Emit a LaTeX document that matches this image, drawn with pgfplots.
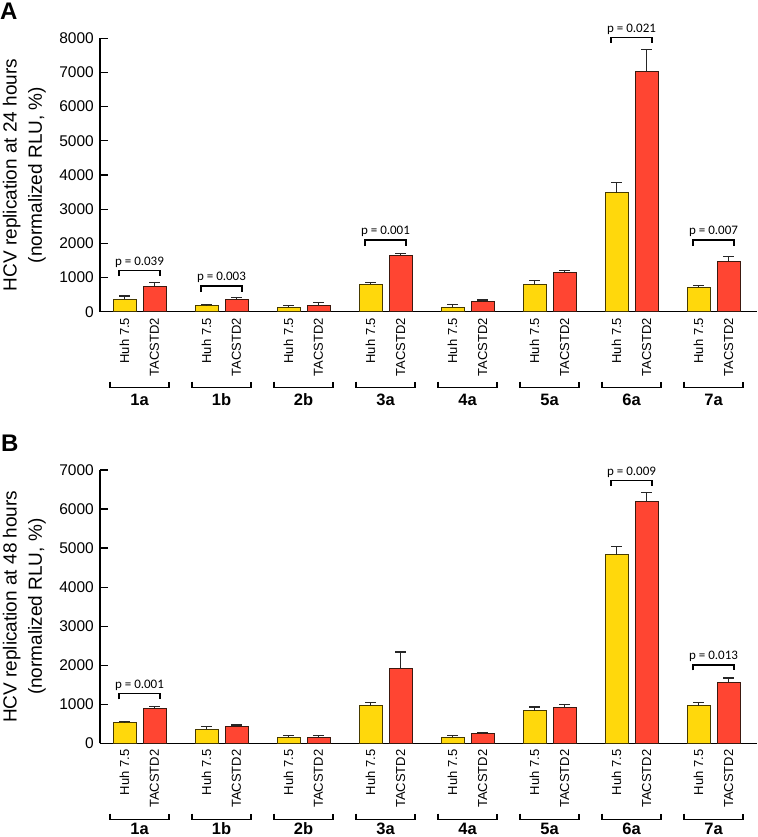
\documentclass[border=0pt]{standalone}
\usepackage{pgfplots}
\pgfplotsset{compat=1.18}
\usepackage{pgfplotstable}
\usepackage{fontspec}
\setmainfont{Liberation Sans}
\newfontfamily\pfont{Carlito}
\definecolor{huhfill}{RGB}{255,216,12}
\definecolor{huhedge}{RGB}{70,58,0}
\definecolor{tacfill}{RGB}{255,69,50}
\definecolor{tacedge}{RGB}{60,25,15}

\pgfplotstableread{
x h he t te
0 370 89 750 98
1 167 48 371 40
2 137 38 167 108
3 800 60 1649 47
4 128 88 292 50
5 800 106 1152 58
6 3480 292 7020 650
7 713 59 1474 146
}\topdata

\pgfplotstableread{
x h he t te
0 533 25 901 51
1 363 67 440 34
2 165 42 148 55
3 960 95 1908 435
4 160 48 255 24
5 840 95 917 86
6 4835 205 6185 247
7 969 86 1549 128
}\botdata

\pgfplotsset{
 panel/.style={
  scale only axis, width=657pt,
  xmin=-0.4817, xmax=7.530, ymin=0,
  axis x line*=bottom, axis y line*=left,
  axis line style={line width=1.3pt, black},
  ybar=7pt, bar width=23pt,
  clip=false,
  xtick={-0.183,0.183,0.817,1.183,1.817,2.183,2.817,3.183,3.817,4.183,4.817,5.183,5.817,6.183,6.817,7.183},
  xticklabels={Huh 7.5,TACSTD2,Huh 7.5,TACSTD2,Huh 7.5,TACSTD2,Huh 7.5,TACSTD2,Huh 7.5,TACSTD2,Huh 7.5,TACSTD2,Huh 7.5,TACSTD2,Huh 7.5,TACSTD2},
  xtick style={draw=none},
  xticklabel style={rotate=90, anchor=east, inner xsep=6pt, inner ysep=0pt, font=\fontsize{13}{14}\selectfont},
  yticklabel style={font=\fontsize{15.5}{17}\selectfont, inner sep=0pt, xshift=-6pt},
  ytick style={line width=1.3pt, black},
  tick align=inside, major tick length=7.5pt,
  /pgf/number format/assume math mode=true,
  /pgf/number format/1000 sep={},
  ylabel style={font=\fontsize{19}{25.3}\selectfont, align=center, at={(axis description cs:-0.0822,0.5)}, anchor=south, inner sep=0pt},
 },
 huh/.style={fill=huhfill, draw=huhedge, line width=1pt,
   error bars/.cd, y dir=plus, y explicit,
   error bar style={line width=1.3pt, black!85},
   error mark options={rotate=90, line width=1.3pt, black!85, mark size=5.5pt}},
 tac/.style={fill=tacfill, draw=tacedge, line width=1pt,
   error bars/.cd, y dir=plus, y explicit,
   error bar style={line width=1.3pt, black!85},
   error mark options={rotate=90, line width=1.3pt, black!85, mark size=5.5pt}},
}
\tikzset{
 brk/.style={line width=1.2pt, black},
 pv/.style={font=\pfont\fontsize{13}{14}\selectfont, anchor=base, inner sep=0pt},
 glab/.style={font=\bfseries\fontsize{16.5}{18}\selectfont, anchor=base, inner sep=0pt},
}
% group bracket: left, center, right, label, label offset
\newcommand{\grp}[5]{%
 \draw[brk] ([yshift=-70pt]axis cs:#1,0) -- ([yshift=-75.6pt]axis cs:#1,0) -- ([yshift=-75.6pt]axis cs:#3,0) -- ([yshift=-70pt]axis cs:#3,0);
 \node[glab] at ([yshift=#5]axis cs:#2,0) {#4};}
% p-value bracket: left, center, right, ybottom, ytop, text
\newcommand{\pval}[6]{%
 \draw[brk] (axis cs:#1,#4) -- (axis cs:#1,#5) -- (axis cs:#3,#5) -- (axis cs:#3,#4);
 \node[pv] at ([yshift=5.2pt]axis cs:#2,#5) {#6};}
\newcommand{\allgroups}[1]{%
 \grp{-0.36}{0}{0.36}{1a}{#1}\grp{0.64}{1}{1.36}{1b}{#1}\grp{1.64}{2}{2.36}{2b}{#1}\grp{2.64}{3}{3.36}{3a}{#1}%
 \grp{3.64}{4}{4.36}{4a}{#1}\grp{4.64}{5}{5.36}{5a}{#1}\grp{5.64}{6}{6.36}{6a}{#1}\grp{6.64}{7}{7.36}{7a}{#1}}

\begin{document}
\begin{tikzpicture}
\useasboundingbox (0,0) rectangle (757pt,837pt);
\node[anchor=north west, inner sep=0pt, font=\bfseries\fontsize{24}{24}\selectfont] at (0pt,834pt) {A};
\node[anchor=north west, inner sep=0pt, font=\bfseries\fontsize{24}{24}\selectfont] at (1pt,402pt) {B};

\begin{axis}[panel, at={(100pt,525.3pt)}, anchor=south west, height=273.4pt,
  ymax=8000, ytick={0,1000,...,8000},
  ylabel={HCV replication at 24 hours\\(normalized RLU, \%)}]
\addplot[huh] table[x=x, y=h, y error=he]{\topdata};
\addplot[tac] table[x=x, y=t, y error=te]{\topdata};
\pval{-0.25}{0}{0.25}{1044}{1199}{p = 0.039}
\pval{0.75}{1}{1.25}{576}{751}{p = 0.003}
\pval{2.75}{3}{3.25}{1921}{2096}{p = 0.001}
\pval{5.75}{6}{6.25}{7871}{8032}{p = 0.021}
\pval{6.75}{7}{7.25}{1921}{2096}{p = 0.007}
\allgroups{-94pt}
\end{axis}

\begin{axis}[panel, at={(100pt,93.5pt)}, anchor=south west, height=273.5pt,
  ymax=7000, ytick={0,1000,...,7000},
  ylabel={HCV replication at 48 hours\\(normalized RLU, \%)}]
\addplot[huh] table[x=x, y=h, y error=he]{\botdata};
\addplot[tac] table[x=x, y=t, y error=te]{\botdata};
\pval{-0.25}{0}{0.25}{1132}{1275}{p = 0.001}
\pval{5.75}{6}{6.25}{6586}{6722}{p = 0.009}
\pval{6.75}{7}{7.25}{1874}{2010}{p = 0.013}
\allgroups{-91pt}
\end{axis}
\end{tikzpicture}
\end{document}
